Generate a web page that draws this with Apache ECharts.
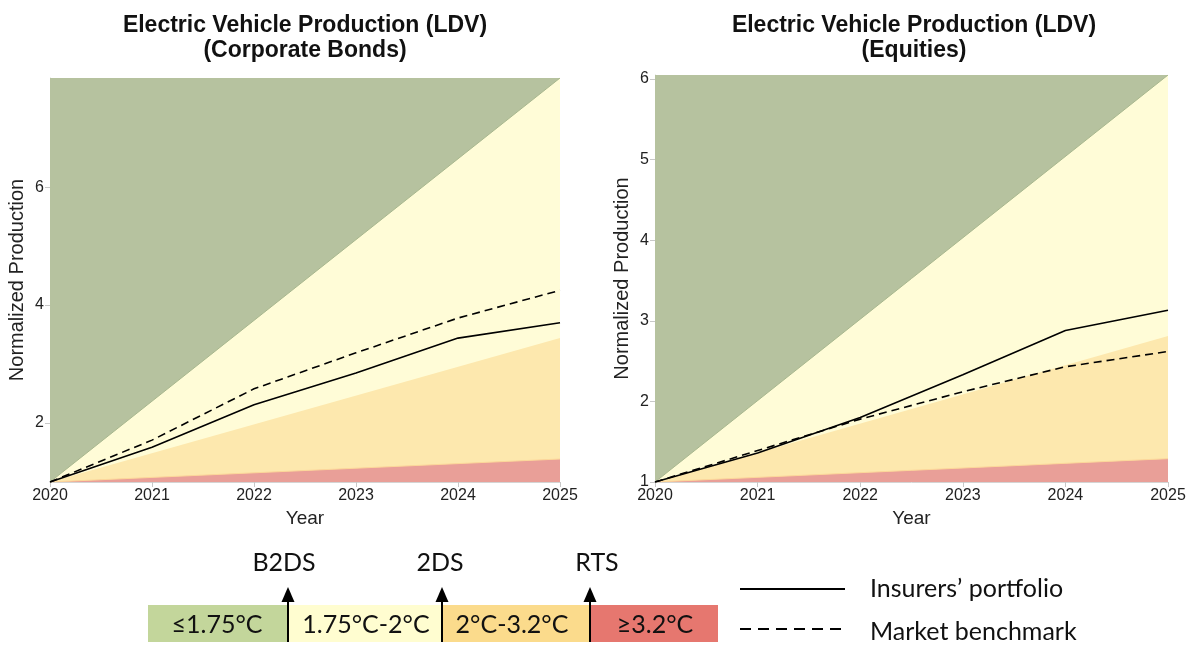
<!DOCTYPE html>
<html>
<head>
<meta charset="utf-8">
<script src="https://cdn.jsdelivr.net/npm/echarts@6/dist/echarts.min.js"></script>
<style>
html,body{margin:0;padding:0;background:#fff;}
#c{width:1192px;height:646px;}
</style>
</head>
<body>
<div id="c"></div>
<script>
// ---- data ----
const years = [2020, 2021, 2022, 2023, 2024, 2025];
const scenarioYears = [2020, 2025];

// Corporate bonds
const bondsPortfolio = [1, 1.59, 2.31, 2.85, 3.44, 3.70];
const bondsBenchmark = [1, 1.71, 2.58, 3.19, 3.78, 4.25];
const bondsB2DS = [1, 7.85];
const bonds2DS = [1, 3.44];
const bondsRTS = [1, 1.39];
const bondsMax = 7.85;
const bondsTicks = [2, 4, 6];

// Equities
const eqPortfolio = [1, 1.36, 1.80, 2.33, 2.88, 3.13];
const eqBenchmark = [1, 1.39, 1.78, 2.12, 2.43, 2.62];
const eqB2DS = [1, 6.05];
const eq2DS = [1, 2.81];
const eqRTS = [1, 1.29];
const eqMax = 6.05;
const eqTicks = [1, 2, 3, 4, 5, 6];

const legendBands = ['≤1.75°C', '1.75°C-2°C', '2°C-3.2°C', '≥3.2°C'];
const legendMarkers = ['B2DS', '2DS', 'RTS'];
const lineNames = ['Insurers’ portfolio', 'Market benchmark'];

// ---- styling ----
const C = {
  green: '#b6c29f', yellow: '#fffcd7', orange: '#fde8ae', red: '#e99f98',
  lgGreen: '#c3d69b', lgYellow: '#fffdd0', lgOrange: '#fbdb8c', lgRed: '#e6776f'
};
const F = 'Liberation Sans, Arial, sans-serif';
const LF = 'Lato, Open Sans, sans-serif';
const LFS = 25;

const pair = (xs, ys) => xs.map((x, i) => [x, ys[i]]);

function axesFor(gi, max, ticks) {
  const x = {
    type: 'value', gridIndex: gi, min: 2020, max: 2025, interval: 1,
    name: 'Year', nameLocation: 'middle', nameGap: 27,
    nameTextStyle: {fontFamily: F, fontSize: 19, color: '#222'},
    axisLine: {show: true, lineStyle: {color: '#d4d4d4'}},
    axisTick: {show: true, length: 5, lineStyle: {color: '#c8c8c8'}},
    axisLabel: {fontFamily: F, fontSize: 16, color: '#222', margin: 6, formatter: v => String(v)},
    splitLine: {show: false}
  };
  const y = {
    type: 'value', gridIndex: gi, min: 1, max: max,
    name: 'Normalized Production', nameLocation: 'middle', nameGap: 23,
    nameTextStyle: {fontFamily: F, fontSize: 20, color: '#222'},
    axisLine: {show: true, lineStyle: {color: '#d4d4d4'}},
    axisTick: {show: true, length: 5, customValues: ticks, lineStyle: {color: '#c8c8c8'}},
    axisLabel: {fontFamily: F, fontSize: 16, color: '#222', margin: 6, customValues: ticks},
    splitLine: {show: false}
  };
  return [x, y];
}

function seriesFor(gi, max, b2ds, s2ds, rts, port, bench) {
  const area = (name, data, color, z, lineColor) => ({
    name, type: 'line', xAxisIndex: gi, yAxisIndex: gi, data: pair(scenarioYears, data),
    symbol: 'none', silent: true, z,
    lineStyle: {width: lineColor ? 1 : 0, color: lineColor || color},
    areaStyle: {color, opacity: 1, origin: 'start'}
  });
  return [
    area('green', [max, max], C.green, 1),
    area('B2DS', b2ds, C.yellow, 2, '#a8b78e'),
    area('2DS', s2ds, C.orange, 3),
    area('RTS', rts, C.red, 4, '#fcd79a'),
    {name: lineNames[0], type: 'line', xAxisIndex: gi, yAxisIndex: gi, data: pair(years, port),
     symbol: 'none', z: 10, lineStyle: {color: '#000', width: 1.6}},
    {name: lineNames[1], type: 'line', xAxisIndex: gi, yAxisIndex: gi, data: pair(years, bench),
     symbol: 'none', z: 10, lineStyle: {color: '#000', width: 1.6, type: [8, 5]}}
  ];
}

const [x0, y0] = axesFor(0, bondsMax, bondsTicks);
const [x1, y1] = axesFor(1, eqMax, eqTicks);

// bottom legend graphics
const bar = {y: 605, h: 37, cuts: [148, 288, 442, 590, 718]};
const bandColors = [C.lgGreen, C.lgYellow, C.lgOrange, C.lgRed];
const bandTextX = [217, 366, 512, 655];
const markerTextX = [284, 440, 597];
const g = [];
legendBands.forEach((t, i) => {
  const x = bar.cuts[i], w = bar.cuts[i + 1] - bar.cuts[i];
  g.push({type: 'rect', shape: {x, y: bar.y, width: w, height: bar.h}, style: {fill: bandColors[i]}});
  g.push({type: 'text', x: bandTextX[i], y: bar.y + bar.h / 2 + 1,
    style: {text: t, fontFamily: LF, fontSize: LFS, fill: '#111', align: 'center', verticalAlign: 'middle'}});
});
legendMarkers.forEach((t, i) => {
  const x = bar.cuts[i + 1];
  g.push({type: 'line', shape: {x1: x, y1: 600, x2: x, y2: 642}, style: {stroke: '#000', lineWidth: 2}});
  g.push({type: 'polygon', shape: {points: [[x, 587], [x - 6.5, 602], [x + 6.5, 602]]}, style: {fill: '#000'}});
  g.push({type: 'text', x: markerTextX[i], y: 563,
    style: {text: t, fontFamily: LF, fontSize: LFS, fill: '#111', align: 'center', verticalAlign: 'middle'}});
});
g.push({type: 'line', shape: {x1: 740, y1: 589, x2: 845, y2: 589}, style: {stroke: '#000', lineWidth: 2}});
g.push({type: 'line', shape: {x1: 740, y1: 629, x2: 845, y2: 629}, style: {stroke: '#000', lineWidth: 2, lineDash: [11, 7]}});
g.push({type: 'text', x: 870, y: 589, style: {text: lineNames[0], fontFamily: LF, fontSize: LFS, fill: '#111', verticalAlign: 'middle'}});
g.push({type: 'text', x: 870, y: 632, style: {text: lineNames[1], fontFamily: LF, fontSize: LFS, fill: '#111', verticalAlign: 'middle'}});

const chart = echarts.init(document.getElementById('c'), null, {renderer: 'canvas'});
chart.setOption({
  animation: false,
  backgroundColor: '#fff',
  title: [
    {text: 'Electric Vehicle Production (LDV)\n(Corporate Bonds)', left: 300, top: 8, textAlign: 'center',
     textStyle: {fontFamily: F, fontSize: 23, fontWeight: 'bold', color: '#111', lineHeight: 25}},
    {text: 'Electric Vehicle Production (LDV)\n(Equities)', left: 909, top: 8, textAlign: 'center',
     textStyle: {fontFamily: F, fontSize: 23, fontWeight: 'bold', color: '#111', lineHeight: 25}}
  ],
  grid: [
    {left: 50, right: 632, top: 78, bottom: 164},
    {left: 655, right: 24, top: 75, bottom: 164}
  ],
  xAxis: [x0, x1],
  yAxis: [y0, y1],
  series: [
    ...seriesFor(0, bondsMax, bondsB2DS, bonds2DS, bondsRTS, bondsPortfolio, bondsBenchmark),
    ...seriesFor(1, eqMax, eqB2DS, eq2DS, eqRTS, eqPortfolio, eqBenchmark)
  ],
  graphic: g
});
</script>
</body>
</html>
